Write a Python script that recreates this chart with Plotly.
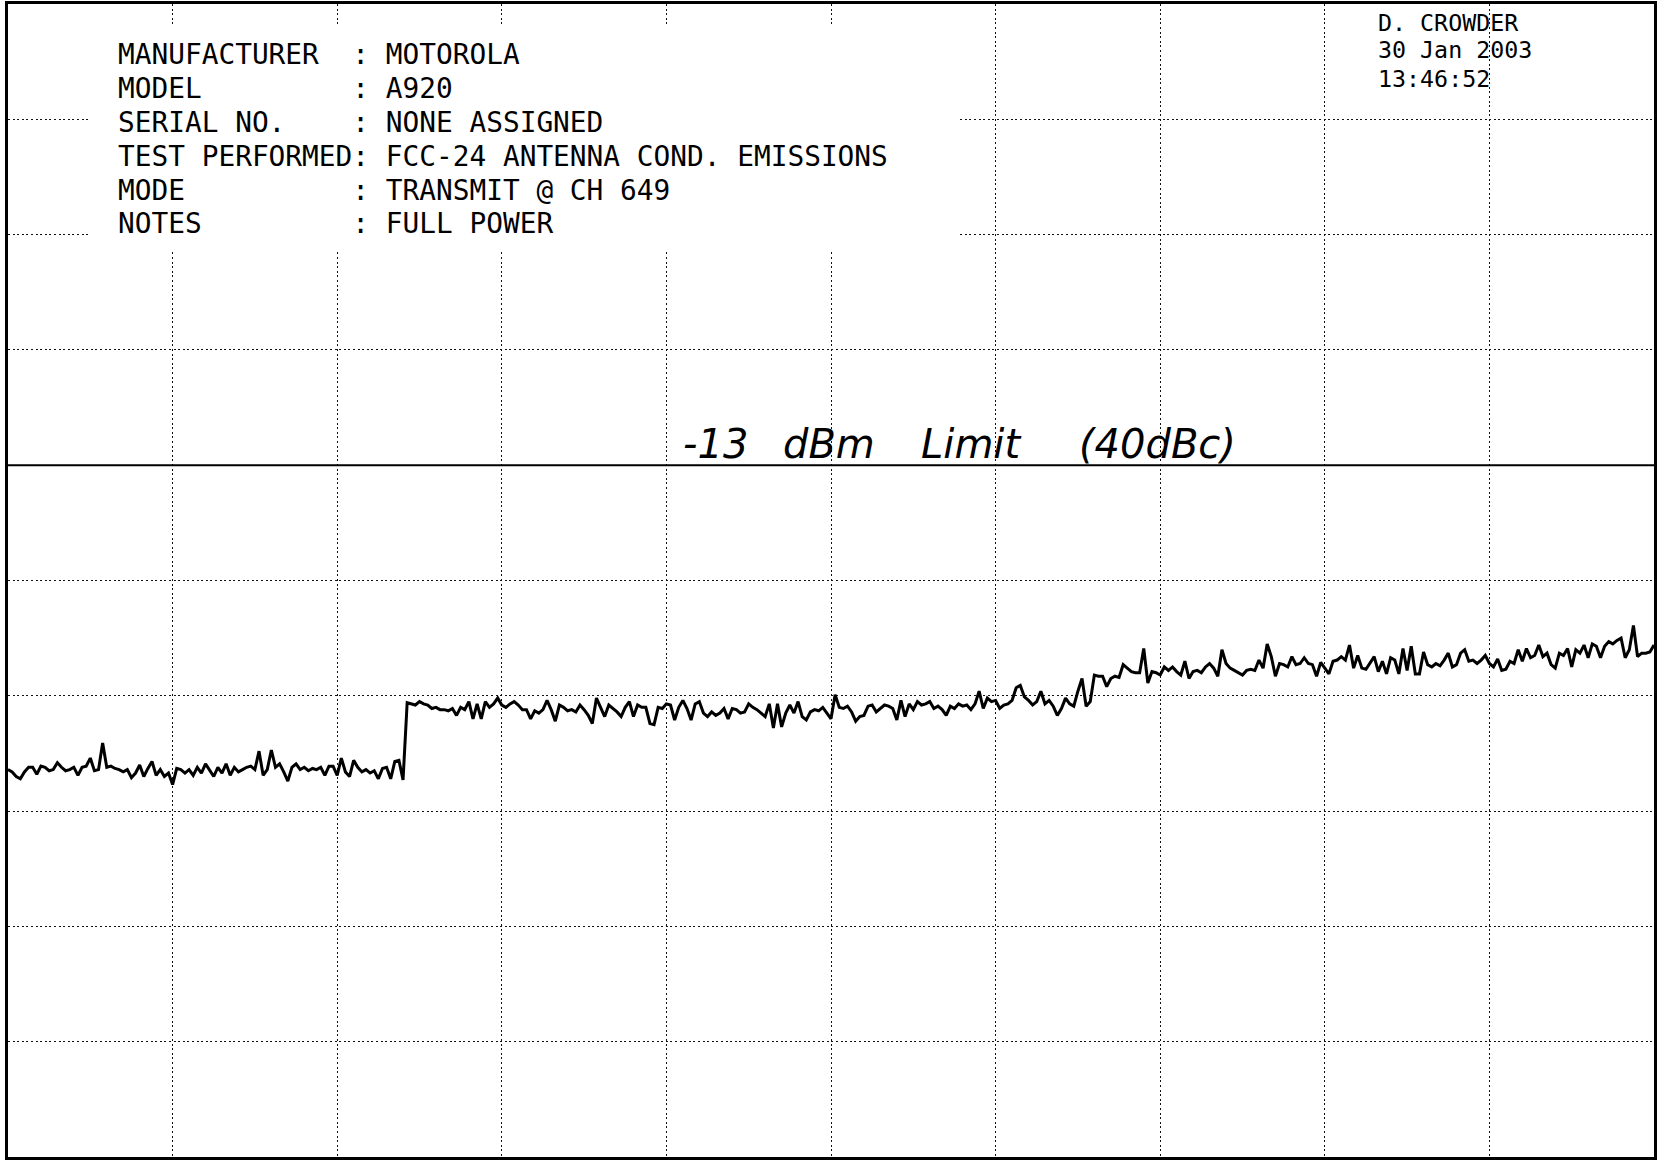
import plotly.graph_objects as go

# ---------------- data ----------------
REF_LEVEL_DBM = 27      # top graticule line
DB_PER_DIV = 10
N_DIV = 10
LIMIT_DBM = -13         # -13 dBm limit (40 dBc)

# measured trace (dBm), 401 sweep points, split per screen quarter
trace_seg1 = [
    -39.4, -39.6, -40.0, -40.2, -39.6, -39.2, -39.2, -39.8, -39.1, -39.2,
    -39.5, -39.4, -38.8, -39.2, -39.5, -39.4, -39.2, -39.9, -39.2, -39.1,
    -38.4, -39.5, -39.4, -37.1, -39.2, -39.1, -39.3, -39.4, -39.6, -39.4,
    -40.1, -39.7, -39.0, -40.0, -39.3, -38.7, -39.9, -39.4, -40.0, -39.7,
    -40.7, -39.3, -39.4, -39.7, -39.4, -39.9, -39.2, -39.7, -38.9, -39.4,
    -40.0, -39.2, -39.7, -38.9, -39.9, -39.2, -39.6, -39.4, -39.2, -39.1,
    -39.4, -37.8, -39.9, -39.4, -37.7, -39.2, -38.9, -39.6, -40.4, -39.2,
    -38.9, -39.4, -39.2, -39.5, -39.3, -39.4, -39.2, -39.9, -39.1, -39.1,
    -39.9, -38.4, -39.6, -40.0, -38.6, -39.2, -39.6, -39.4, -39.7, -39.5,
    -40.2, -39.3, -39.2, -40.2, -38.7, -38.6, -40.3, -33.6, -33.7, -33.8,
]
trace_seg2 = [
    -33.5, -33.7, -33.8, -34.1, -34.0, -34.2, -34.2, -34.3, -34.1, -34.7,
    -34.0, -34.2, -33.5, -35.0, -33.7, -35.0, -33.5, -34.0, -33.7, -33.2,
    -33.8, -34.0, -33.7, -33.5, -33.8, -34.2, -34.2, -35.0, -34.3, -34.5,
    -34.2, -33.4, -34.2, -35.2, -33.8, -34.0, -34.3, -34.2, -34.4, -33.8,
    -34.2, -34.7, -35.4, -33.2, -34.0, -34.8, -33.8, -34.1, -34.4, -34.8,
    -34.0, -33.5, -34.8, -33.8, -34.0, -34.0, -35.4, -35.5, -34.0, -34.1,
    -33.7, -33.8, -35.1, -34.0, -33.4, -34.1, -35.1, -33.7, -33.5, -34.5,
    -34.8, -34.4, -34.7, -34.5, -34.1, -35.0, -34.1, -34.2, -34.5, -34.4,
    -33.7, -34.0, -34.2, -34.5, -34.8, -33.7, -35.8, -33.7, -35.7, -34.5,
    -33.8, -34.5, -33.5, -34.8, -35.1, -34.4, -34.2, -34.3, -34.0, -34.5,
]
trace_seg3 = [
    -35.0, -32.9, -34.0, -34.1, -33.9, -34.4, -35.2, -34.8, -34.7, -33.9,
    -33.8, -34.4, -34.1, -33.8, -33.9, -34.1, -35.1, -33.4, -34.8, -33.7,
    -34.2, -33.5, -33.8, -33.7, -33.5, -34.1, -33.9, -34.2, -34.7, -33.9,
    -34.1, -33.7, -33.9, -33.8, -34.2, -33.7, -32.6, -34.1, -33.2, -33.5,
    -33.4, -34.1, -33.8, -33.7, -33.4, -32.3, -32.1, -33.1, -33.4, -33.8,
    -33.5, -32.6, -33.7, -33.4, -33.9, -34.7, -34.1, -33.2, -33.7, -33.9,
    -32.6, -31.5, -33.9, -33.5, -31.2, -31.3, -31.3, -32.2, -31.5, -31.3,
    -31.4, -30.3, -30.6, -30.9, -31.0, -31.0, -28.9, -31.9, -30.9, -31.0,
    -31.2, -30.5, -30.8, -30.5, -30.9, -31.2, -30.0, -31.5, -30.9, -30.8,
    -31.0, -30.5, -30.2, -30.6, -31.3, -29.0, -30.2, -30.6, -30.8, -31.0,
]
trace_seg4 = [
    -31.2, -30.8, -30.7, -30.8, -29.9, -30.6, -28.5, -29.6, -31.3, -30.2,
    -30.3, -30.5, -29.6, -30.3, -30.2, -29.7, -30.2, -30.3, -31.3, -30.1,
    -30.6, -31.1, -30.0, -29.9, -29.6, -29.9, -28.6, -30.6, -29.5, -30.6,
    -30.7, -30.1, -29.6, -30.9, -30.0, -31.1, -29.7, -29.9, -31.1, -28.9,
    -30.8, -28.7, -31.1, -31.1, -29.2, -30.3, -30.5, -30.2, -30.4, -29.9,
    -29.3, -30.5, -30.3, -29.3, -29.0, -30.0, -29.9, -30.2, -29.9, -29.5,
    -30.2, -30.5, -29.8, -30.8, -30.7, -30.0, -30.2, -29.0, -30.0, -28.9,
    -29.7, -29.5, -28.6, -29.6, -29.3, -30.3, -30.6, -29.3, -29.5, -28.9,
    -30.5, -29.0, -29.3, -28.6, -29.7, -28.5, -28.7, -29.7, -28.7, -28.3,
    -28.5, -28.2, -28.0, -29.7, -29.0, -26.9, -29.6, -29.3, -29.3, -29.2,
    -28.6,
]
trace_dbm = trace_seg1 + trace_seg2 + trace_seg3 + trace_seg4
sweep_point = list(range(len(trace_dbm)))

header_labels = ["MANUFACTURER", "MODEL", "SERIAL NO.", "TEST PERFORMED", "MODE", "NOTES"]
header_values = ["MOTOROLA", "A920", "NONE ASSIGNED",
                 "FCC-24 ANTENNA COND. EMISSIONS", "TRANSMIT @ CH 649", "FULL POWER"]
operator_lines = ["D. CROWDER", "30 Jan 2003", "13:46:52"]
limit_note_words = ["-13", "dBm", "Limit", "(40dBc)"]

# ---------------- layout helpers ----------------
W, H = 1658, 1160
L, R, T, B = 8, 1, 4, 3
PW, PH = W - L - R, H - T - B


def px_x(x):
    return (x - L) / PW


def px_y(y):
    return (H - B - y) / PH


fig = go.Figure()
fig.add_trace(go.Scatter(
    x=sweep_point, y=trace_dbm, mode="lines",
    line=dict(color="black", width=3), hoverinfo="skip", showlegend=False,
))

n_pts = len(trace_dbm) - 1
bottom = REF_LEVEL_DBM - N_DIV * DB_PER_DIV
grid = dict(showgrid=True, gridcolor="#111", gridwidth=1.4, griddash="2px,2.6px",
            showticklabels=False, ticks="", zeroline=False,
            showline=True, mirror=True, linecolor="black", linewidth=2.5)
fig.update_xaxes(range=[0, n_pts], dtick=n_pts / N_DIV, tick0=0, **grid)
fig.update_yaxes(range=[bottom, REF_LEVEL_DBM], dtick=DB_PER_DIV, tick0=bottom, **grid)

# limit line
fig.add_shape(type="line", xref="paper", x0=0, x1=1, yref="y", y0=LIMIT_DBM, y1=LIMIT_DBM,
              line=dict(color="black", width=2))

# white header panel covering the graticule
fig.add_shape(type="rect", xref="paper", yref="paper",
              x0=px_x(91), x1=px_x(960), y0=px_y(252), y1=px_y(26),
              fillcolor="white", line=dict(width=0), layer="above")

mono = dict(family="DejaVu Sans Mono", color="black")
header_y = [55.0, 88.8, 122.7, 156.5, 190.3, 223.1]
for lab, val, yy in zip(header_labels, header_values, header_y):
    txt = (lab.ljust(14) + ": " + val).replace(" ", "\u00a0")
    fig.add_annotation(text=txt, xref="paper", yref="paper", x=px_x(116), y=px_y(yy),
                       xanchor="left", yanchor="middle", showarrow=False,
                       font=dict(size=27.8, **mono))

op_y = [22.2, 49.7, 78.2]
for line, yy in zip(operator_lines, op_y):
    fig.add_annotation(text=line.replace(" ", "\u00a0"), xref="paper", yref="paper",
                       x=px_x(1378), y=px_y(yy), xanchor="left", yanchor="middle",
                       showarrow=False, font=dict(size=23.3, **mono))

note_x = [717, 830, 973, 1160]
for word, xx in zip(limit_note_words, note_x):
    fig.add_annotation(text=word, xref="paper", x=px_x(xx), yref="y", y=LIMIT_DBM,
                       xanchor="center", yanchor="bottom", yshift=-4, showarrow=False,
                       font=dict(family="DejaVu Sans", size=40, style="italic", weight=200,
                                 color="black"))

fig.update_layout(
    width=W, height=H, margin=dict(l=L, r=R, t=T, b=B),
    paper_bgcolor="white", plot_bgcolor="white",
)

fig.write_html("out.html")
